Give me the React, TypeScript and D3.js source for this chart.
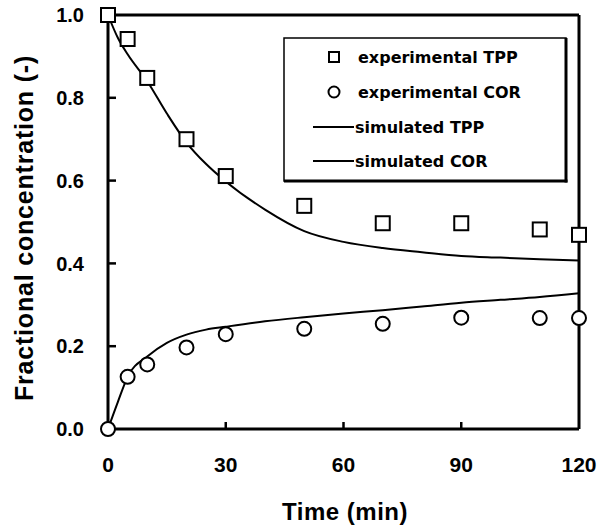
import React from 'react'
import * as d3 from 'd3'

// measured data (time in min, fractional concentration)
const expTime = [0, 5, 10, 20, 30, 50, 70, 90, 110, 120]
const expTPP = [1.0, 0.942, 0.848, 0.70, 0.611, 0.539, 0.497, 0.497, 0.482, 0.469]
const expCOR = [0.0, 0.126, 0.156, 0.197, 0.229, 0.242, 0.254, 0.269, 0.268, 0.268]

// model curves
const simTime = [0, 2.5, 5, 10, 15, 20, 25, 30, 40, 50, 60, 70, 80, 90, 100, 110, 120]
const simTPP = [1.0, 0.945, 0.905, 0.84, 0.762, 0.692, 0.64, 0.598, 0.53, 0.478, 0.452, 0.437, 0.427, 0.418, 0.414, 0.41, 0.407]
const simCOR = [0.0, 0.065, 0.126, 0.175, 0.208, 0.228, 0.24, 0.247, 0.26, 0.27, 0.279, 0.287, 0.296, 0.305, 0.312, 0.319, 0.328]

const xTicks = [0, 30, 60, 90, 120]
const yTicks = [0.0, 0.2, 0.4, 0.6, 0.8, 1.0]

const legendItems = ['experimental TPP', 'experimental COR', 'simulated TPP', 'simulated COR']

const W = 610
const H = 532
const margin = { left: 108, right: 31, top: 15, bottom: 103 }

const boldFont = '"Liberation Sans", Arial, sans-serif'
const legendFont = '"DejaVu Sans", sans-serif'

export default function App () {
  const x = d3.scaleLinear().domain([0, 120]).range([margin.left, W - margin.right])
  const y = d3.scaleLinear().domain([0, 1]).range([H - margin.bottom, margin.top])

  const line = d3.line<number>()
    .x((d, i) => x(simTime[i]))
    .y((d) => y(d))
    .curve(d3.curveMonotoneX)

  const [x0, x1] = x.range()
  const [y0, y1] = y.range()

  // legend layout
  const lg = { left: 284, top: 38, right: 566, bottom: 181 }
  const rowBase = [63, 98, 133, 167]
  const markX = 334
  const textX = 358

  return (
    <svg width={W} height={H} style={{ position: 'absolute', left: 0, top: 0, background: '#fff' }}>
      {/* frame */}
      <line x1={x0} x2={x1} y1={y1} y2={y1} stroke='#000' strokeWidth={3} />
      <line x1={x1} x2={x1} y1={y1} y2={y0} stroke='#000' strokeWidth={3} />
      <line x1={x0} x2={x1} y1={y0} y2={y0} stroke='#000' strokeWidth={3} />
      <line x1={x0} x2={x0} y1={y1} y2={y0} stroke='#000' strokeWidth={3} />

      {/* ticks */}
      {yTicks.map((t) => (
        <g key={'y' + t}>
          {t > 0 && t < 1 && <line x1={x0} x2={x0 + 8} y1={y(t)} y2={y(t)} stroke='#000' strokeWidth={2.5} />}
          <text x={84} y={y(t)} dy='0.36em' textAnchor='end' fontFamily={boldFont} fontWeight='bold' fontSize={20}>
            {t.toFixed(1)}
          </text>
        </g>
      ))}
      {xTicks.map((t) => (
        <g key={'x' + t}>
          {t > 0 && t < 120 && <line x1={x(t)} x2={x(t)} y1={y0} y2={y0 - 7} stroke='#000' strokeWidth={2.5} />}
          <text x={x(t)} y={472} textAnchor='middle' fontFamily={boldFont} fontWeight='bold' fontSize={21}>
            {t}
          </text>
        </g>
      ))}

      {/* axis titles */}
      <text x={345} y={520} textAnchor='middle' fontFamily={boldFont} fontWeight='bold' fontSize={24} letterSpacing={0.5}>
        Time (min)
      </text>
      <text transform='translate(33,228) rotate(-90)' textAnchor='middle' fontFamily={boldFont} fontWeight='bold' fontSize={25} letterSpacing={0.8}>
        Fractional concentration (-)
      </text>

      {/* simulated curves */}
      <path d={line(simTPP) || ''} fill='none' stroke='#000' strokeWidth={2} />
      <path d={line(simCOR) || ''} fill='none' stroke='#000' strokeWidth={2} />

      {/* experimental points */}
      {expTime.map((t, i) => (
        <rect key={'s' + i} x={x(t) - 7} y={y(expTPP[i]) - 7} width={14} height={14} fill='#fff' stroke='#000' strokeWidth={2} />
      ))}
      {expTime.map((t, i) => (
        <circle key={'c' + i} cx={x(t)} cy={y(expCOR[i])} r={7} fill='#fff' stroke='#000' strokeWidth={2} />
      ))}

      {/* legend */}
      <rect x={lg.left} y={lg.top} width={lg.right - lg.left} height={lg.bottom - lg.top} fill='#fff' stroke='#000' strokeWidth={1.5} />
      <line x1={lg.right} x2={lg.right} y1={lg.top} y2={lg.bottom + 1.5} stroke='#000' strokeWidth={3} />
      <line x1={lg.left} x2={lg.right + 1.5} y1={lg.bottom} y2={lg.bottom} stroke='#000' strokeWidth={3} />
      <rect x={markX - 5} y={rowBase[0] - 11} width={10} height={10} fill='#fff' stroke='#000' strokeWidth={2} />
      <circle cx={markX} cy={rowBase[1] - 6} r={5.5} fill='#fff' stroke='#000' strokeWidth={2} />
      <line x1={313} x2={354} y1={rowBase[2] - 6} y2={rowBase[2] - 6} stroke='#000' strokeWidth={2} />
      <line x1={313} x2={354} y1={rowBase[3] - 6} y2={rowBase[3] - 6} stroke='#000' strokeWidth={2} />
      {legendItems.map((label, i) => (
        <text key={label} x={i < 2 ? textX : 355} y={rowBase[i]} fontFamily={legendFont} fontWeight='bold' fontSize={16}>
          {label}
        </text>
      ))}
    </svg>
  )
}
